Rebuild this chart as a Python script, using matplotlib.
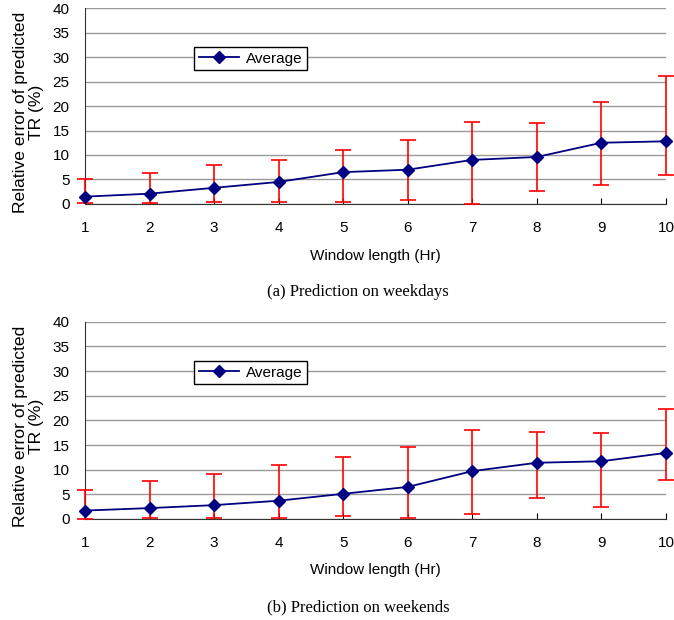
import matplotlib
matplotlib.use("Agg")
import matplotlib.pyplot as plt

hours = [1, 2, 3, 4, 5, 6, 7, 8, 9, 10]

# weekdays
wd_avg = [1.5, 2.1, 3.3, 4.5, 6.5, 7.0, 9.0, 9.6, 12.5, 12.8]
wd_hi = [5.0, 6.4, 7.9, 9.0, 11.0, 13.1, 16.8, 16.6, 20.8, 26.2]
wd_lo = [0.1, 0.1, 0.45, 0.45, 0.45, 0.9, 0.0, 2.7, 3.9, 6.0]

# weekends
we_avg = [1.7, 2.2, 2.8, 3.7, 5.1, 6.5, 9.7, 11.4, 11.7, 13.4]
we_hi = [5.9, 7.6, 9.1, 10.9, 12.6, 14.6, 18.0, 17.7, 17.4, 22.3]
we_lo = [0.0, 0.2, 0.2, 0.2, 0.5, 0.2, 1.1, 4.2, 2.5, 8.0]

captions = ["(a) Prediction on weekdays", "(b) Prediction on weekends"]

plt.rcParams['font.family'] = ['Liberation Sans', 'DejaVu Sans']

fig = plt.figure(figsize=(6.74, 6.2), dpi=100)
ax1 = fig.add_axes([0.1261, 0.671, 0.862, 0.316])
ax2 = fig.add_axes([0.1261, 0.163, 0.862, 0.318])

for ax, avg, hi, lo, cap in [(ax1, wd_avg, wd_hi, wd_lo, captions[0]),
                             (ax2, we_avg, we_hi, we_lo, captions[1])]:
    yerr = [[a - l for a, l in zip(avg, lo)], [h - a for a, h in zip(avg, hi)]]
    eb = ax.errorbar(hours, avg, yerr=yerr, fmt='none', ecolor='#ff0000',
                     elinewidth=1.2, capsize=5.5, capthick=1.2, zorder=3)
    for art in eb.lines[1] + eb.lines[2]:
        art.set_clip_on(False)
    ax.plot(hours, avg, color='#000080', lw=1.3, marker='D', markersize=6,
            label='Average', zorder=4, clip_on=False)
    ax.set_xlim(1, 10)
    ax.set_ylim(0, 40)
    ax.set_yticks(range(0, 41, 5))
    ax.set_xticks(hours)
    ax.yaxis.grid(True, color='#999999', lw=1)
    ax.set_axisbelow(True)
    for s in ['top', 'right']:
        ax.spines[s].set_visible(False)
    ax.spines['left'].set_color('#333333')
    ax.spines['bottom'].set_color('#333333')
    ax.tick_params(axis='x', direction='in', length=4, labelsize=11, pad=12)
    ax.tick_params(axis='y', length=0, labelsize=11, pad=11)
    ax.set_xlabel('Window length (Hr)', fontsize=11, labelpad=10)
    ax.set_ylabel('Relative error of predicted\nTR (%)', fontsize=12.6,
                  linespacing=1.15)
    ax.yaxis.set_label_coords(-0.07, 0.47)
    ax.legend(loc='upper left', bbox_to_anchor=(0.175, 0.84), fancybox=False,
              edgecolor='black', framealpha=1, fontsize=11, handlelength=2.6,
              borderpad=0.3, handletextpad=0.5)
    ax.text(0.47, -0.45, cap, transform=ax.transAxes, ha='center', va='center',
            family='Liberation Serif', fontsize=12)

fig.savefig('out.png', dpi=100)
